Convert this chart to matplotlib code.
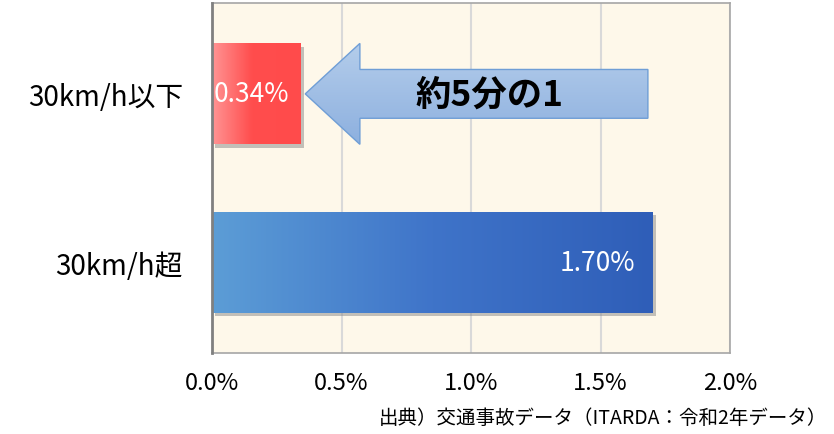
import numpy as np
import matplotlib
matplotlib.use("Agg")
import matplotlib.pyplot as plt
from matplotlib.patches import Polygon
from matplotlib import patheffects as pe
from matplotlib.colors import to_rgb

plt.rcParams['font.family'] = ['Noto Sans CJK JP', 'DejaVu Sans']

# data
categories = ["30km/h以下", "30km/h超"]
values = [0.34, 1.70]
value_labels = ["0.34%", "1.70%"]
x_ticks = [0.0, 0.5, 1.0, 1.5, 2.0]
x_tick_labels = ["0.0%", "0.5%", "1.0%", "1.5%", "2.0%"]
arrow_text = "約5分の1"
source_text = "出典）交通事故データ（ITARDA：令和2年データ）"

# gradient stops (left -> right)
bar_grads = [
    [(0.0, "#FF9494"), (0.45, "#FF4D4D"), (1.0, "#FF4B4B")],
    [(0.0, "#5C9DD6"), (0.5, "#3F74C9"), (1.0, "#2F5EB8")],
]


def gradient(stops, n=256):
    pos = np.linspace(0, 1, n)
    xs = [s[0] for s in stops]
    cols = np.array([to_rgb(s[1]) for s in stops])
    return np.stack([np.interp(pos, xs, cols[:, k]) for k in range(3)], axis=-1)


fig = plt.figure(figsize=(8.34, 4.35), dpi=100)
ax = fig.add_axes([0.2542, 0.1862, 0.6211, 0.8046])
ax.set_facecolor("#FEF8EA")

ypos = np.arange(len(categories))
bars = ax.barh(ypos, values, height=0.6, color="none", zorder=3,
               path_effects=[pe.SimplePatchShadow(offset=(2.5, -2.5), shadow_rgbFace="#888888", alpha=0.5),
                             pe.Normal()])

for patch, stops in zip(bars.patches, bar_grads):
    x0, y0 = patch.get_x(), patch.get_y()
    w, h = patch.get_width(), patch.get_height()
    img = gradient(stops)[np.newaxis, :, :]
    im = ax.imshow(img, extent=[x0, x0 + w, y0, y0 + h], aspect="auto",
                   zorder=4, interpolation="bilinear")
    im.set_clip_path(patch)

# value labels
ax.text(0.008, ypos[0], value_labels[0], color="white", fontsize=19,
        ha="left", va="center", zorder=6)
ax.text(values[1] - 0.065, ypos[1], value_labels[1], color="white", fontsize=19,
        ha="right", va="center", zorder=6)

# arrow pointing at the small bar
tip = values[0] + 0.02
head_base = 0.571
tail = 1.683
cy = ypos[0]
hh, sh = 0.3, 0.145
arrow_pts = [(tip, cy), (head_base, cy - hh), (head_base, cy - sh), (tail, cy - sh),
             (tail, cy + sh), (head_base, cy + sh), (head_base, cy + hh)]
arrow = Polygon(arrow_pts, closed=True, facecolor="none", edgecolor="#6F9ED6",
                lw=1.0, zorder=5)
ax.add_patch(arrow)
agrad = gradient([(0.0, "#B4CDEB"), (1.0, "#8DB0DF")])[:, np.newaxis, :]
aim = ax.imshow(agrad, extent=[tip, tail, cy + hh, cy - hh], aspect="auto",
                zorder=4.5, interpolation="bilinear")
aim.set_clip_path(arrow)
ax.text(1.07, cy, arrow_text, fontsize=25.5, fontweight="bold", color="black",
        ha="center", va="center", zorder=6)

ax.set_xlim(0, 2.0)
ax.set_ylim(1.54, -0.54)
ax.set_xticks(x_ticks)
ax.set_xticklabels(x_tick_labels, fontsize=17)
ax.set_yticks(ypos)
ax.set_yticklabels(categories, fontsize=20)
ax.tick_params(axis="both", length=0)
ax.tick_params(axis="x", pad=13)
ax.tick_params(axis="y", pad=21)

ax.grid(axis="x", color="#D9D9D9", lw=1.5, zorder=1)
ax.set_axisbelow(True)
for side in ["top", "right", "bottom"]:
    ax.spines[side].set_color("#A6A6A6")
    ax.spines[side].set_linewidth(1.2)
ax.spines["left"].set_color("#808080")
ax.spines["left"].set_linewidth(2)
ax.spines["left"].set_zorder(7)

fig.text(0.992, 0.037, source_text, fontsize=14, ha="right", va="center")

fig.savefig("out.png", dpi=100, facecolor="white")
